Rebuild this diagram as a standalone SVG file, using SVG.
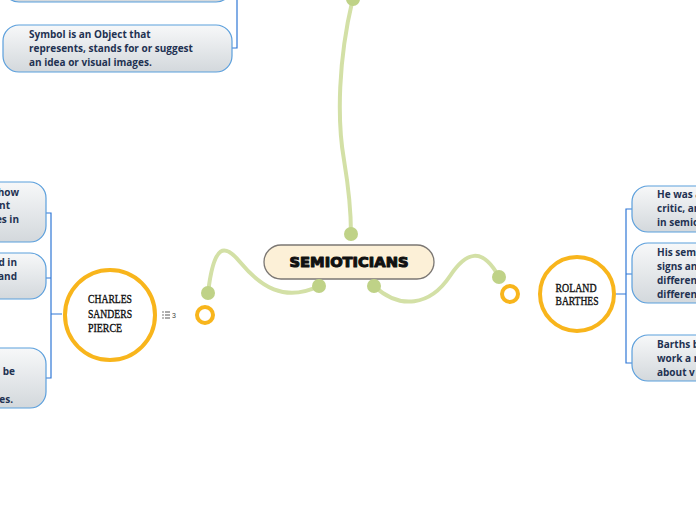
<svg xmlns="http://www.w3.org/2000/svg" width="696" height="520" viewBox="0 0 696 520">
<defs>
<linearGradient id="bg" x1="0" y1="0" x2="0" y2="1">
<stop offset="0" stop-color="#f7f8f9"/>
<stop offset="1" stop-color="#d3d8dc"/>
</linearGradient>
<style>
.box{fill:url(#bg);stroke:#5b9fdc;stroke-width:1.2}
.bt{font-family:"Open Sans","Noto Sans",sans-serif;font-weight:bold;font-size:10px;fill:#1f3252}
.br{fill:none;stroke:#2f77d6;stroke-width:1.2}
.vine{fill:none;stroke:#d3e0a6;stroke-width:4;stroke-linecap:round}
.dot{fill:#bfd287}
.ring{fill:none;stroke:#f8b51c;stroke-width:4}
.ct{font-family:"Liberation Serif","DejaVu Serif",serif;font-size:11.5px;fill:#111;stroke:#111;stroke-width:0.35;text-anchor:middle}
</style>
</defs>
<rect width="696" height="520" fill="#ffffff"/>
<g id="connectors">
<path class="vine" d="M353,-2 C338,60 337,120 344,160 C349,190 351,215 351,234"/>
<path class="vine" d="M319,286 C284,303 260,286 240,262 C225,244 214,242 208,293"/>
<path class="vine" d="M374,286 C400,310 430,306 450,276 C466,252 482,246 499,277"/>
<path class="br" d="M237,0 V48 H232"/>
<path class="br" d="M46,213 H51 V378 H46 M51,278 H46 M51,314 H62"/>
<path class="br" d="M632,209 H626 V363 H632 M626,274 H632 M616,294 H626"/>
</g>
<g id="top-box">
<rect class="box" x="3" y="-40" width="229" height="42" rx="16"/>
</g>
<g id="symbol">
<rect class="box" x="3" y="25" width="229" height="47" rx="16"/>
<text class="bt" x="29" y="38">Symbol is an Object that</text>
<text class="bt" x="29" y="52">represents, stands for or suggest</text>
<text class="bt" x="29" y="66">an idea or visual images.</text>
</g>
<g id="left-box-1">
<rect class="box" x="-60" y="182" width="106" height="60" rx="16"/>
<text class="bt" x="19" y="196" text-anchor="end">how</text>
<text class="bt" x="10" y="209" text-anchor="end">nt</text>
<text class="bt" x="19" y="223" text-anchor="end">es in</text>
</g>
<g id="left-box-2">
<rect class="box" x="-60" y="253" width="106" height="46" rx="16"/>
<text class="bt" x="17" y="266" text-anchor="end">d in</text>
<text class="bt" x="17" y="280" text-anchor="end">and</text>
</g>
<g id="left-box-3">
<rect class="box" x="-60" y="348" width="106" height="60" rx="16"/>
<text class="bt" x="15" y="375" text-anchor="end">n be</text>
<text class="bt" x="13" y="403" text-anchor="end">es.</text>
</g>
<g id="charles">
<circle cx="110" cy="315" r="45" fill="#fff" class="ring"/>
<text class="ct" x="110" y="303" textLength="44" lengthAdjust="spacingAndGlyphs">CHARLES</text>
<text class="ct" x="110" y="318" textLength="44" lengthAdjust="spacingAndGlyphs">SANDERS</text>
<text class="ct" x="105" y="332" textLength="34" lengthAdjust="spacingAndGlyphs">PIERCE</text>
<g fill="#444" stroke="#444">
<circle cx="163" cy="312" r="0.7" stroke="none"/>
<circle cx="163" cy="315" r="0.7" stroke="none"/>
<circle cx="163" cy="318" r="0.7" stroke="none"/>
<path d="M165,312 H170 M165,315 H170 M165,318 H170" stroke-width="0.9"/>
</g>
<text x="172" y="318" font-family="Liberation Sans,Arial,sans-serif" font-size="7" fill="#444">3</text>
</g>
<g id="left-ring">
<circle class="ring" cx="205" cy="315" r="8"/>
</g>
<g id="semioticians">
<rect x="264" y="245" width="170" height="34" rx="17" fill="#fcf0d7" stroke="#7b7773" stroke-width="1.3"/>
<text x="349" y="267" text-anchor="middle" font-family="DejaVu Sans,sans-serif" font-weight="900" font-size="13.5" fill="#111" stroke="#111" stroke-width="1" stroke-linejoin="round" textLength="119" lengthAdjust="spacingAndGlyphs">SEMIOTICIANS</text>
</g>
<g id="dots">
<circle class="dot" cx="353" cy="-1" r="7"/>
<circle class="dot" cx="351" cy="234" r="7"/>
<circle class="dot" cx="319" cy="286" r="7"/>
<circle class="dot" cx="374" cy="286" r="7"/>
<circle class="dot" cx="208" cy="293" r="7"/>
<circle class="dot" cx="499" cy="277" r="7"/>
</g>
<g id="right-ring">
<circle class="ring" cx="510" cy="294" r="8"/>
</g>
<g id="roland">
<circle cx="577" cy="294" r="37" fill="#fff" class="ring"/>
<text class="ct" x="576" y="292" textLength="41" lengthAdjust="spacingAndGlyphs">ROLAND</text>
<text class="ct" x="577" y="305" textLength="43" lengthAdjust="spacingAndGlyphs">BARTHES</text>
</g>
<g id="right-box-1">
<rect class="box" x="632" y="186" width="120" height="46" rx="16"/>
<text class="bt" x="657" y="198">He was a</text>
<text class="bt" x="657" y="212">critic, and</text>
<text class="bt" x="657" y="226">in semiotics</text>
</g>
<g id="right-box-2">
<rect class="box" x="632" y="243" width="120" height="60" rx="16"/>
<text class="bt" x="657" y="256">His semiotics</text>
<text class="bt" x="657" y="270">signs and</text>
<text class="bt" x="657" y="284">different</text>
<text class="bt" x="657" y="298">different</text>
</g>
<g id="right-box-3">
<rect class="box" x="632" y="335" width="120" height="46" rx="16"/>
<text class="bt" x="657" y="348">Barths b</text>
<text class="bt" x="657" y="362">work a r</text>
<text class="bt" x="657" y="376">about v</text>
</g>
</svg>
